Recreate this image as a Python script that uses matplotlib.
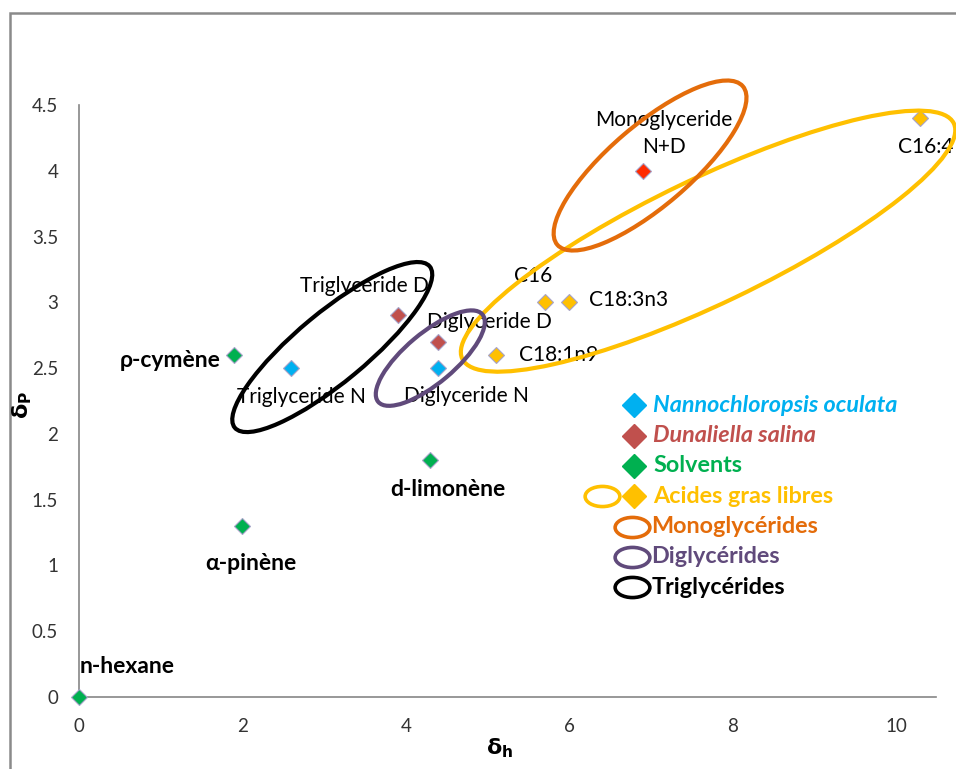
import matplotlib
matplotlib.use("Agg")
import matplotlib.pyplot as plt
from matplotlib.patches import Ellipse, Rectangle
from matplotlib.path import Path
from matplotlib.transforms import ScaledTranslation

plt.rcParams['font.family'] = ['Lato', 'DejaVu Sans']
plt.rcParams['mathtext.fontset'] = 'dejavusans'

# data (delta_h, delta_p)
solv_x = [0, 1.9, 2.0, 4.3]
solv_y = [0, 2.6, 1.3, 1.8]
solv_names = ["n-hexane", "ρ-cymène", "α-pinène", "d-limonène"]

nanno_x = [2.6, 4.4]
nanno_y = [2.5, 2.5]
nanno_names = ["Triglyceride N", "Diglyceride N"]

duna_x = [3.9, 4.4]
duna_y = [2.9, 2.7]
duna_names = ["Triglyceride D", "Diglyceride D"]

mono_x = [6.9]
mono_y = [4.0]
mono_names = ["Monoglyceride\nN+D"]

acid_x = [5.7, 6.0, 5.1, 10.3]
acid_y = [3.0, 3.0, 2.6, 4.4]
acid_names = ["C16", "C18:3n3", "C18:1n9", "C16:4"]

# group outlines: centre (data), width/height (inches), angle (deg)
groups = ["Acides gras libres", "Monoglycérides", "Diglycérides", "Triglycérides"]
group_cx = [7.70, 6.99, 4.30, 3.10]
group_cy = [3.465, 4.04, 2.576, 2.66]
group_w = [5.45, 2.44, 1.36, 2.53]
group_h = [1.25, 0.81, 0.50, 0.70]
group_ang = [25.6, 40.5, 40.0, 39.6]
group_col = ["#FFC000", "#E46C0A", "#604A7B", "#000000"]

# label offsets in points (dx, dy, ha)
solv_off = [(35, 22, 'center'), (-10, -4, 'right'), (6, -27, 'center'), (13, -21, 'center')]
nanno_off = [(7, -21, 'center'), (20, -20, 'center')]
duna_off = [(-24, 21, 'center'), (37, 14, 'center')]
mono_off = [(15, 27, 'center')]
acid_off = [(-8, 19, 'center'), (14, 2, 'left'), (16.5, 0, 'left'), (3.6, -21, 'center')]

fig = plt.figure(figsize=(9.56, 7.69), dpi=100)
ax = fig.add_axes([79 / 956, 72 / 769, 857 / 956, 592 / 769])

# outer chart frame
fig.patches.append(Rectangle((10 / 956, -0.2), 1.2, 1.2 - 14 / 769 + 0.001, transform=fig.transFigure,
                             fill=False, ec="#8a8a8a", lw=1.8))

edge = "#a7a3c9"
series = [
    (solv_x, solv_y, solv_names, solv_off, "#00B050", 'bold', 16.5),
    (nanno_x, nanno_y, nanno_names, nanno_off, "#00B0F0", 'normal', 15),
    (duna_x, duna_y, duna_names, duna_off, "#C0504D", 'normal', 15),
    (mono_x, mono_y, mono_names, mono_off, "#FF2A00", 'normal', 15),
    (acid_x, acid_y, acid_names, acid_off, "#FFC000", 'normal', 15),
]
for xs, ys, names, offs, col, wt, fs in series:
    ax.plot(xs, ys, ls='none', marker='D', ms=8, mfc=col, mec=edge, mew=0.8, zorder=3, clip_on=False)
    for x, y, nm, (dx, dy, ha) in zip(xs, ys, names, offs):
        ax.annotate(nm, (x, y), xytext=(dx, dy), textcoords='offset points', ha=ha, va='center',
                    fontsize=fs, fontweight=wt, color='black', linespacing=1.45,
                    multialignment='center', zorder=4)

for cx, cy, w, h, a, c in zip(group_cx, group_cy, group_w, group_h, group_ang, group_col):
    tr = fig.dpi_scale_trans + ScaledTranslation(cx, cy, ax.transData)
    ax.add_patch(Ellipse((0, 0), w, h, angle=a, transform=tr, fill=False, ec=c, lw=3,
                         zorder=5, clip_on=False))

ax.set_xlim(0, 10.49)
ax.set_ylim(0, 4.5)
ax.set_xticks([0, 2, 4, 6, 8, 10])
ax.set_yticks([0, 0.5, 1, 1.5, 2, 2.5, 3, 3.5, 4, 4.5])
ax.set_yticklabels(["0", "0.5", "1", "1.5", "2", "2.5", "3", "3.5", "4", "4.5"])
ax.tick_params(length=0, labelsize=13.5, labelcolor="#333333")
ax.tick_params(axis='y', pad=15)
ax.tick_params(axis='x', pad=15)
for s in ['top', 'right']:
    ax.spines[s].set_visible(False)
for s in ['left', 'bottom']:
    ax.spines[s].set_color("#868686")
    ax.spines[s].set_linewidth(1.2)

fig.text(500 / 956, 1 - 748 / 769, r'$\mathbf{δ_h}$', ha='center', va='center', fontsize=16)
fig.text(22 / 956, 1 - 405 / 769, r'$\mathbf{δ_P}$', ha='center', va='center', fontsize=16, rotation=90)

# legend
ell = Path.unit_circle()
ell = Path(ell.vertices * [1.0, 0.58], ell.codes)
leg_labels = ["Nannochloropsis oculata", "Dunaliella salina", "Solvents"] + groups
leg_cols = ["#00B0F0", "#C0504D", "#00B050"] + group_col
leg_style = ['italic', 'italic', 'normal', 'normal', 'normal', 'normal', 'normal']
lx, tx, ly0, step = 0.6476, 0.670, 0.493, 0.0513
for i, (lab, col, st) in enumerate(zip(leg_labels, leg_cols, leg_style)):
    yy = ly0 - i * step
    if i <= 3:
        ax.plot([lx], [yy], transform=ax.transAxes, marker='D', ms=12, mfc=col, mec=col,
                ls='none', clip_on=False, zorder=6)
    if i == 3:
        ax.plot([0.610], [yy], transform=ax.transAxes, marker=ell, ms=25, mfc='none', mec=col,
                mew=2.6, ls='none', clip_on=False, zorder=6)
    elif i > 3:
        ax.plot([lx - 0.002], [yy], transform=ax.transAxes, marker=ell, ms=25, mfc='none', mec=col,
                mew=2.6, ls='none', clip_on=False, zorder=6)
    ax.text(tx if i <= 3 else tx - 0.002, yy, lab, transform=ax.transAxes, color=col, fontsize=16.8,
            fontweight='bold', fontstyle=st, va='center', ha='left')

fig.savefig("out.png", dpi=100)
